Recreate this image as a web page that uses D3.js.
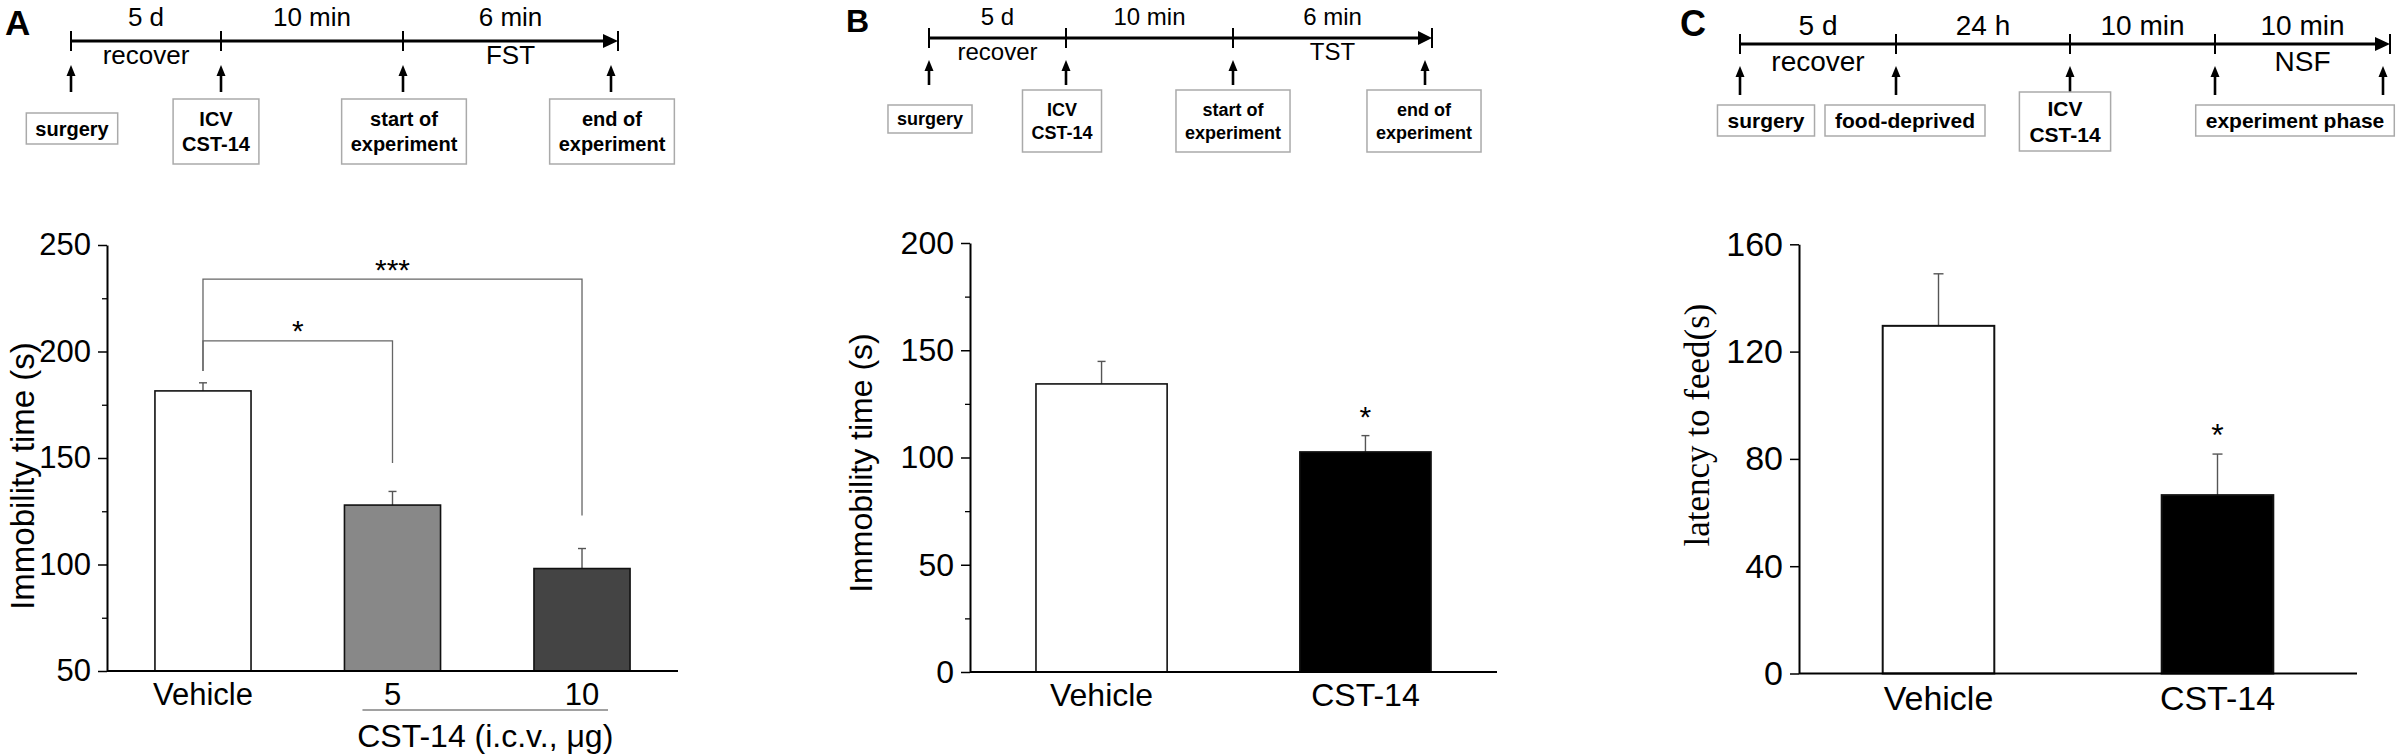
<!DOCTYPE html>
<html>
<head>
<meta charset="utf-8">
<script src="https://cdn.jsdelivr.net/npm/d3@7"></script>
<style>
  body { margin: 0; background: #fff; }
  svg { display: block; font-family: "Liberation Sans", Arial, sans-serif; }
</style>
</head>
<body>
<svg id="fig" width="2402" height="756"></svg>
<script>
// ---- data ----
const catsA = ['Vehicle', '5', '10'];
const meanA = [181.5, 127.9, 98.1];
const semA = [3.8, 6.4, 9.4];
const ticksA = [50, 100, 150, 200, 250];
const minorA = [75, 125, 175, 225];

const catsB = ['Vehicle', 'CST-14'];
const meanB = [134.3, 102.6];
const semB = [10.5, 7.6];
const ticksB = [0, 50, 100, 150, 200];
const minorB = [25, 75, 125, 175];

const catsC = ['Vehicle', 'CST-14'];
const meanC = [129.6, 66.5];
const semC = [19.4, 15.3];
const ticksC = [0, 40, 80, 120, 160];

// significance marks (value units)
const bracketsA = [
  { a: 0, b: 1, level: 205, legA: 190.8, legB: 147.6, label: '*' },
  { a: 0, b: 2, level: 234, legA: 190.8, legB: 123, label: '***' }
];
const starB = [null, '*'];
const starC = [null, '*'];

// timelines
const spanA = ['5 d', '10 min', '6 min'];
const underA = ['recover', '', 'FST'];
const boxA = [['surgery'], ['ICV', 'CST-14'], ['start of', 'experiment'], ['end of', 'experiment']];
const spanB = ['5 d', '10 min', '6 min'];
const underB = ['recover', '', 'TST'];
const boxB = [['surgery'], ['ICV', 'CST-14'], ['start of', 'experiment'], ['end of', 'experiment']];
const spanC = ['5 d', '24 h', '10 min', '10 min'];
const underC = ['recover', '', '', 'NSF'];
const boxC = [['surgery'], ['food-deprived'], ['ICV', 'CST-14'], ['experiment phase']];

const svg = d3.select('#fig');

// ---- bar panel ----
function barPanel(p) {
  const g = svg.append('g');
  const x = d3.scaleBand().domain(p.cats).range(p.xr).paddingInner(p.pi).paddingOuter(p.po);
  const y = d3.scaleLinear().domain(p.domain).range(p.yr);
  const base = y(p.domain[0]);
  const cx = i => x(p.cats[i]) + x.bandwidth() / 2;

  // error bars (upper only)
  const eb = g.append('g').attr('stroke', '#555').attr('stroke-width', 1.4);
  p.means.forEach((m, i) => {
    eb.append('line').attr('x1', cx(i)).attr('x2', cx(i)).attr('y1', y(m)).attr('y2', y(m + p.sem[i]));
    eb.append('line').attr('x1', cx(i) - p.cap).attr('x2', cx(i) + p.cap)
      .attr('y1', y(m + p.sem[i])).attr('y2', y(m + p.sem[i]));
  });

  g.selectAll('rect.bar').data(p.means).join('rect')
    .attr('class', 'bar')
    .attr('x', (d, i) => x(p.cats[i]))
    .attr('width', x.bandwidth())
    .attr('y', d => y(d))
    .attr('height', d => base - y(d))
    .attr('fill', (d, i) => p.fills[i])
    .attr('stroke', '#111')
    .attr('stroke-width', p.barStroke);

  // y axis
  const ya = g.append('g').attr('transform', `translate(${p.xr[0]},0)`)
    .call(d3.axisLeft(y).tickValues(p.ticks).tickSize(9).tickSizeOuter(0).tickPadding(7).tickFormat(d3.format('d')));
  ya.select('.domain').attr('stroke-width', 2);
  ya.selectAll('.tick line').attr('stroke-width', 1.5);
  ya.selectAll('text').attr('font-size', p.fs).attr('font-family', '"Liberation Sans", Arial, sans-serif').attr('fill', '#000');
  if (p.minor) {
    const ym = g.append('g').attr('transform', `translate(${p.xr[0]},0)`)
      .call(d3.axisLeft(y).tickValues(p.minor).tickSize(5).tickSizeOuter(0).tickFormat(''));
    ym.select('.domain').remove();
    ym.selectAll('.tick line').attr('stroke-width', 1.3);
  }

  // x axis
  const xa = g.append('g').attr('transform', `translate(0,${base})`)
    .call(d3.axisBottom(x).tickSize(0).tickSizeOuter(0).tickPadding(p.xpad));
  xa.select('.domain').attr('stroke-width', 2).attr('d', `M${p.xr[0]},0H${p.xr[1]}`);
  xa.selectAll('text').attr('font-size', p.fs).attr('font-family', '"Liberation Sans", Arial, sans-serif').attr('fill', '#000');

  // y label
  g.append('text')
    .attr('transform', `translate(${p.ylab.x},${p.ylab.y}) rotate(-90)`)
    .attr('text-anchor', 'middle').attr('dominant-baseline', 'central')
    .attr('font-size', p.ylab.fs)
    .attr('font-family', p.ylab.family || '"Liberation Sans", Arial, sans-serif')
    .text(p.ylab.text);

  // stars above bars
  if (p.stars) {
    p.stars.forEach((s, i) => {
      if (!s) return;
      g.append('text').attr('x', cx(i)).attr('y', y(p.means[i] + p.sem[i]) - p.starGap + 0.52 * p.starFs)
        .attr('text-anchor', 'middle').attr('font-size', p.starFs).text(s);
    });
  }

  // brackets
  if (p.brackets) {
    const bg = g.append('g').attr('stroke', '#666').attr('stroke-width', 1.3).attr('fill', 'none');
    p.brackets.forEach(b => {
      bg.append('path').attr('d',
        `M${cx(b.a)},${y(b.legA)}V${y(b.level)}H${cx(b.b)}V${y(b.legB)}`);
      g.append('text').attr('x', (cx(b.a) + cx(b.b)) / 2).attr('y', y(b.level) - 15 + 0.52 * p.starFs)
        .attr('text-anchor', 'middle').attr('font-size', p.starFs).text(b.label);
    });
  }
  return { x, y, cx };
}

// ---- timeline schematic ----
function timeline(t) {
  const g = svg.append('g');
  const xs = t.stops;
  const end = xs[xs.length - 1];
  g.append('line').attr('x1', xs[0]).attr('x2', end - t.head).attr('y1', t.y).attr('y2', t.y)
    .attr('stroke', '#000').attr('stroke-width', 3);
  g.selectAll('line.tk').data(xs).join('line').attr('class', 'tk')
    .attr('x1', d => d).attr('x2', d => d).attr('y1', t.y - 10).attr('y2', t.y + 10)
    .attr('stroke', '#000').attr('stroke-width', 2);
  g.append('path').attr('d', `M${end - t.head},${t.y - 7}L${end},${t.y}L${end - t.head},${t.y + 7}Z`).attr('fill', '#000');

  t.spans.forEach((s, i) => {
    const mid = (xs[i] + xs[i + 1]) / 2;
    g.append('text').attr('x', mid).attr('y', t.above).attr('text-anchor', 'middle').attr('font-size', t.fs).text(s);
    if (t.under[i]) g.append('text').attr('x', mid).attr('y', t.below).attr('text-anchor', 'middle').attr('font-size', t.fs).text(t.under[i]);
  });

  const ax = xs.map((d, i) => i === xs.length - 1 ? d - 7 : d);
  ax.forEach(a => {
    g.append('line').attr('x1', a).attr('x2', a).attr('y1', t.arrow[0] + 9).attr('y2', t.arrow[1])
      .attr('stroke', '#000').attr('stroke-width', 2.6);
    g.append('path').attr('d', `M${a - 4.5},${t.arrow[0] + 11}L${a},${t.arrow[0]}L${a + 4.5},${t.arrow[0] + 11}Z`).attr('fill', '#000');
  });

  t.boxes.forEach((lines, i) => {
    const bx = t.boxX ? t.boxX[i] : ax[i];
    const top = lines.length > 1 ? t.box2[0] : t.box1[0];
    const h = lines.length > 1 ? t.box2[1] : t.box1[1];
    const bg = g.append('g');
    const rect = bg.append('rect').attr('fill', '#fff').attr('stroke', '#aaa').attr('stroke-width', 1.5);
    const lh = t.bfs * 1.25;
    const c = top + h / 2;
    let w = 0;
    lines.forEach((ln, k) => {
      const ty = c + (k - (lines.length - 1) / 2) * lh + 0.36 * t.bfs;
      const tx = bg.append('text').attr('x', bx).attr('y', ty).attr('text-anchor', 'middle')
        .attr('font-size', t.bfs).attr('font-weight', 'bold').text(ln);
      w = Math.max(w, tx.node().getComputedTextLength());
    });
    const bw = w + 2 * t.pad;
    rect.attr('x', bx - bw / 2).attr('y', top).attr('width', bw).attr('height', h);
  });
}

// panel letters
svg.append('text').attr('x', 5).attr('y', 35).attr('font-size', 35).attr('font-weight', 'bold').text('A');
svg.append('text').attr('x', 846).attr('y', 32).attr('font-size', 32).attr('font-weight', 'bold').text('B');
svg.append('text').attr('x', 1680).attr('y', 36).attr('font-size', 36).attr('font-weight', 'bold').text('C');

timeline({ stops: [71, 221, 403, 618], y: 41, head: 15, fs: 26, above: 26, below: 64, spans: spanA, under: underA,
  arrow: [65, 92], boxes: boxA, boxX: [72, 216, 404, 612], box1: [113, 31], box2: [99, 65], bfs: 20, pad: 9 });
timeline({ stops: [929, 1066, 1233, 1432], y: 38, head: 14, fs: 24, above: 25, below: 60, spans: spanB, under: underB,
  arrow: [60, 85], boxes: boxB, boxX: [930, 1062, 1233, 1424], box1: [105, 28], box2: [90, 62], bfs: 18, pad: 9 });
timeline({ stops: [1740, 1896, 2070, 2215, 2390], y: 44, head: 15, fs: 28, above: 35, below: 71, spans: spanC, under: underC,
  arrow: [66, 95], boxes: boxC, boxX: [1766, 1905, 2065, 2295], box1: [105, 31], box2: [92, 59], bfs: 21, pad: 10 });

// bar panels
const pA = barPanel({ cats: catsA, means: meanA, sem: semA, fills: ['#fff', '#888', '#444'], barStroke: 1.6,
  xr: [107, 678], pi: 0.493, po: 0.253, domain: [50, 250], yr: [671, 245], ticks: ticksA, minor: minorA,
  fs: 31, xpad: 12, cap: 4, brackets: bracketsA, starFs: 30,
  ylab: { text: 'Immobility time (s)', x: 22, y: 476, fs: 33 } });

// group underline and label for doses
const b1 = pA.x('5'), b2 = pA.x('10') + pA.x.bandwidth();
svg.append('line').attr('x1', b1 + 18).attr('x2', b2 - 22).attr('y1', 710).attr('y2', 710)
  .attr('stroke', '#444').attr('stroke-width', 1.2);
svg.append('text').attr('x', (b1 + 18 + b2 - 22) / 2).attr('y', 747).attr('text-anchor', 'middle')
  .attr('font-size', 32).text('CST-14 (i.c.v., μg)');

barPanel({ cats: catsB, means: meanB, sem: semB, fills: ['#fff', '#000'], barStroke: 1.6,
  xr: [970, 1497], pi: 0.503, po: 0.25, domain: [0, 200], yr: [672, 243], ticks: ticksB, minor: minorB,
  fs: 32, xpad: 11, cap: 4, stars: starB, starFs: 30, starGap: 24,
  ylab: { text: 'Immobility time (s)', x: 861, y: 463, fs: 32 } });

barPanel({ cats: catsC, means: meanC, sem: semC, fills: ['#fff', '#000'], barStroke: 2,
  xr: [1799, 2357], pi: 0.6, po: 0.3, domain: [0, 160], yr: [673.5, 244.3], ticks: ticksC,
  fs: 34, xpad: 12, cap: 5, stars: starC, starFs: 32, starGap: 25,
  ylab: { text: 'latency to feed(s)', x: 1697, y: 425, fs: 35, family: '"Liberation Serif", "Times New Roman", serif' } });
</script>
</body>
</html>
